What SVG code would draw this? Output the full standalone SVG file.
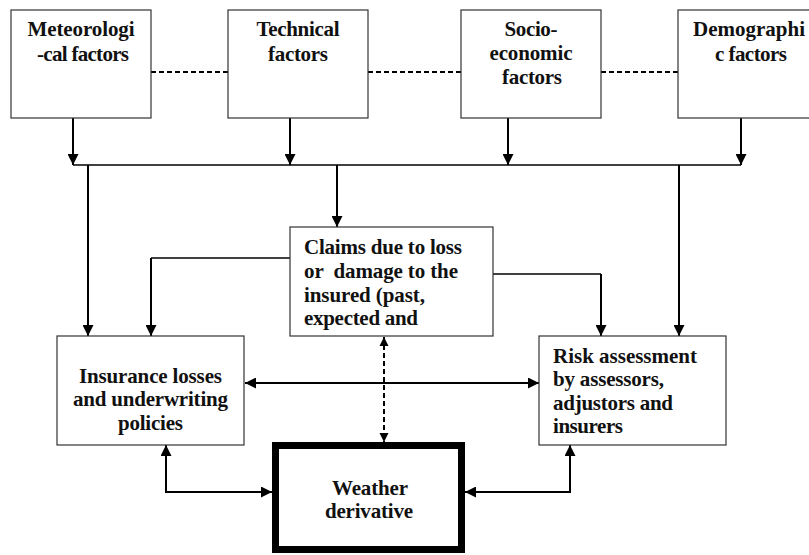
<svg xmlns="http://www.w3.org/2000/svg" width="809" height="555" viewBox="0 0 809 555">
<defs>
<marker id="ah" viewBox="0 0 10 10" markerUnits="userSpaceOnUse" markerWidth="11" markerHeight="11" refX="10" refY="5" orient="auto-start-reverse">
<path d="M0,0 L10,5 L0,10 z" fill="#000"/>
</marker>
<marker id="ahs" viewBox="0 0 10 10" markerUnits="userSpaceOnUse" markerWidth="9" markerHeight="10" refX="10" refY="5" orient="auto-start-reverse">
<path d="M0,0 L10,5 L0,10 z" fill="#000"/>
</marker>
<style>
.box{fill:#fff;stroke:#333;stroke-width:1.2}
.thick{fill:#fff;stroke:#000;stroke-width:7}
text{font-family:"Liberation Serif","Times New Roman",serif;font-weight:bold;font-size:21px;fill:#111}
.c{text-anchor:middle}
.ln{fill:none;stroke:#000;stroke-width:2}
.thin{fill:none;stroke:#000;stroke-width:1.3}
.dash{fill:none;stroke:#000;stroke-width:2;stroke-dasharray:5 3}
</style>
</defs>
<rect width="809" height="555" fill="#fff"/>
<g id="connectors">
<path class="dash" d="M151,72 H228 M368,72 H461 M601,72 H678"/>
<path class="ln" d="M73,118 V165" marker-end="url(#ah)"/>
<path class="ln" d="M290,118 V165" marker-end="url(#ah)"/>
<path class="ln" d="M508,118 V165" marker-end="url(#ah)"/>
<path class="ln" d="M741,118 V165" marker-end="url(#ah)"/>
<path class="thin" d="M73,165 H741"/>
<path class="ln" d="M88,165 V336" marker-end="url(#ah)"/>
<path class="ln" d="M337,165 V227" marker-end="url(#ah)"/>
<path class="ln" d="M679,165 V336" marker-end="url(#ah)"/>
<path class="thin" d="M290,258 H151"/>
<path class="ln" d="M151,258 V336" marker-end="url(#ah)"/>
<path class="thin" d="M493,274 H601"/>
<path class="ln" d="M601,274 V336" marker-end="url(#ah)"/>
<path class="ln" d="M245,383 H539" marker-start="url(#ah)" marker-end="url(#ah)"/>
<path class="dash" d="M384,337 V442" marker-start="url(#ahs)" marker-end="url(#ahs)"/>
<path class="ln" d="M166,445 V492 H272" marker-start="url(#ah)" marker-end="url(#ah)"/>
<path class="ln" d="M465,492 H570 V445" marker-start="url(#ah)" marker-end="url(#ah)"/>
</g>
<g id="meteorological">
<rect class="box" x="11" y="10" width="140" height="108"/>
<text class="c" x="81" y="36" textLength="107">Meteorologi</text>
<text class="c" x="83" y="61" textLength="92">-cal factors</text>
</g>
<g id="technical">
<rect class="box" x="228" y="10" width="140" height="108"/>
<text class="c" x="298" y="36" textLength="83">Technical</text>
<text class="c" x="298" y="61" textLength="60">factors</text>
</g>
<g id="socioeconomic">
<rect class="box" x="461" y="10" width="140" height="108"/>
<text class="c" x="531" y="36" textLength="53">Socio-</text>
<text class="c" x="531" y="60" textLength="83">economic</text>
<text class="c" x="532" y="84" textLength="60">factors</text>
</g>
<g id="demographic">
<rect class="box" x="678" y="10" width="144" height="108"/>
<text class="c" x="749" y="36" textLength="112">Demographi</text>
<text class="c" x="751" y="61" textLength="72">c factors</text>
</g>
<g id="claims">
<rect class="box" x="290" y="227" width="203" height="109"/>
<text x="304" y="254" textLength="158">Claims due to loss</text>
<text x="304" y="278" textLength="154" xml:space="preserve">or  damage to the</text>
<text x="304" y="302" textLength="121">insured (past,</text>
<text x="304" y="325" textLength="114">expected and</text>
</g>
<g id="insurance">
<rect class="box" x="57" y="336" width="187" height="109"/>
<text class="c" x="150.5" y="383" textLength="143">Insurance losses</text>
<text class="c" x="150.5" y="406" textLength="155">and underwriting</text>
<text class="c" x="150.5" y="430" textLength="65">policies</text>
</g>
<g id="risk">
<rect class="box" x="539" y="336" width="187" height="109"/>
<text x="553" y="363" textLength="144">Risk assessment</text>
<text x="553" y="386" textLength="111">by assessors,</text>
<text x="553" y="410" textLength="120">adjustors and</text>
<text x="553" y="433" textLength="70">insurers</text>
</g>
<g id="weather">
<rect class="thick" x="275.5" y="445.5" width="186" height="104"/>
<text class="c" x="370" y="495" textLength="76">Weather</text>
<text class="c" x="369" y="518" textLength="88">derivative</text>
</g>
</svg>
